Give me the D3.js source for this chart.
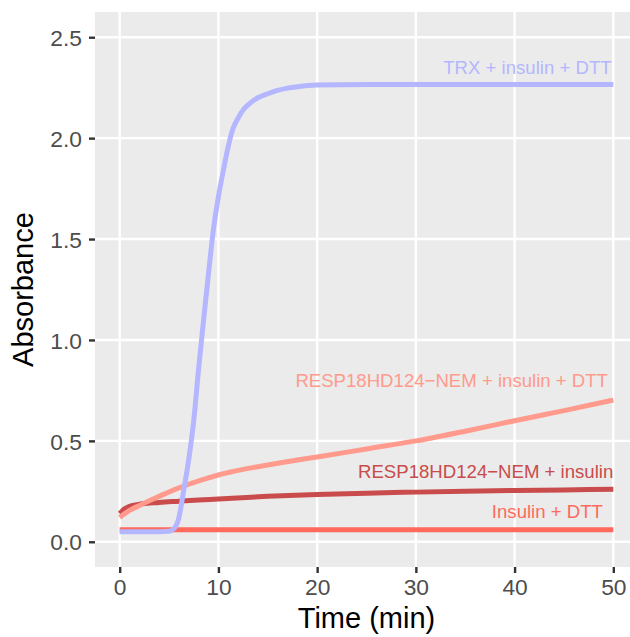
<!DOCTYPE html>
<html>
<head>
<meta charset="utf-8">
<script src="https://cdn.jsdelivr.net/npm/d3@7/dist/d3.min.js"></script>
<style>
  html, body { margin: 0; padding: 0; background: #ffffff; }
  svg { display: block; font-family: "Liberation Sans", Arial, Helvetica, sans-serif; }
</style>
</head>
<body>
<svg id="chart" width="630" height="637"></svg>
<script>
// Insulin reduction assay: absorbance over time (min)
const trxTime  = [0, 2, 4, 5, 5.5, 6, 6.5, 7, 7.5, 8, 8.5, 9, 9.5, 10, 10.5, 11, 11.5, 12, 12.5, 13, 14, 15, 16, 17, 18, 20, 25, 30, 40, 50];
const trxAbs   = [0.05, 0.05, 0.05, 0.052, 0.065, 0.12, 0.26, 0.41, 0.6, 0.86, 1.1, 1.33, 1.55, 1.71, 1.84, 1.96, 2.05, 2.1, 2.14, 2.165, 2.2, 2.22, 2.237, 2.248, 2.255, 2.263, 2.266, 2.266, 2.266, 2.266];

const nemDttTime = [0, 1, 2, 3, 4, 5, 6, 7, 8, 9, 10, 11, 12, 14, 16, 18, 20, 25, 30, 35, 40, 45, 50];
const nemDttAbs  = [0.12, 0.155, 0.18, 0.203, 0.225, 0.247, 0.267, 0.285, 0.302, 0.317, 0.331, 0.343, 0.354, 0.372, 0.389, 0.405, 0.42, 0.46, 0.5, 0.548, 0.6, 0.65, 0.702];

const nemTime = [0, 0.5, 1, 2, 4, 6, 8, 10, 15, 20, 25, 30, 35, 40, 45, 50];
const nemAbs  = [0.14, 0.163, 0.176, 0.186, 0.195, 0.201, 0.207, 0.212, 0.225, 0.234, 0.241, 0.246, 0.25, 0.254, 0.257, 0.26];

const insTime = [0, 10, 20, 30, 40, 50];
const insAbs  = [0.06, 0.06, 0.059, 0.059, 0.059, 0.059];

const seriesNames  = ["Insulin + DTT", "RESP18HD124\u2212NEM + insulin", "RESP18HD124\u2212NEM + insulin + DTT", "TRX + insulin + DTT"];
const seriesColors = ["#ff6a5c", "#c94b4b", "#ff9a8c", "#b4b6ff"];

// Label anchors (data units): right end x, vertical centre y
const labelX = [48.95, 50.0, 49.46, 49.83];
const labelY = [0.15, 0.35, 0.8, 2.35];

const xTicks = [0, 10, 20, 30, 40, 50];
const yTicks = [0, 0.5, 1.0, 1.5, 2.0, 2.5];

const series = [
  { t: insTime, a: insAbs },
  { t: nemTime, a: nemAbs },
  { t: nemDttTime, a: nemDttAbs },
  { t: trxTime, a: trxAbs }
].map((s, i) => ({
  name: seriesNames[i],
  color: seriesColors[i],
  points: s.t.map((t, j) => ({ t, a: s.a[j] }))
}));

const svg = d3.select("#chart");
const panel = { left: 95, right: 638, top: 12, bottom: 567 };

const x = d3.scaleLinear().domain([-2.5, 52.5]).range([panel.left, panel.right]);
const y = d3.scaleLinear().domain([-0.125, 2.625]).range([panel.bottom, panel.top]);

// Panel background
svg.append("rect")
  .attr("x", panel.left).attr("y", panel.top)
  .attr("width", panel.right - panel.left)
  .attr("height", panel.bottom - panel.top)
  .attr("fill", "#ebebeb");

// Grid lines
const grid = svg.append("g").attr("stroke", "#ffffff").attr("stroke-width", 2.4);
grid.selectAll("line.gx").data(xTicks).join("line")
  .attr("x1", d => x(d)).attr("x2", d => x(d))
  .attr("y1", panel.top).attr("y2", panel.bottom);
grid.selectAll("line.gy").data(yTicks).join("line")
  .attr("x1", panel.left).attr("x2", panel.right)
  .attr("y1", d => y(d)).attr("y2", d => y(d));

// Axes
const xAxis = d3.axisBottom(x).tickValues(xTicks).tickFormat(d3.format("d")).tickSize(6).tickPadding(6);
const yAxis = d3.axisLeft(y).tickValues(yTicks).tickFormat(d3.format(".1f")).tickSize(6).tickPadding(7);

const gx = svg.append("g").attr("transform", `translate(0,${panel.bottom})`).call(xAxis);
const gy = svg.append("g").attr("transform", `translate(${panel.left},0)`).call(yAxis);
[gx, gy].forEach(g => {
  g.select(".domain").remove();
  g.selectAll(".tick line").attr("stroke", "#333333").attr("stroke-width", 2.4);
  g.selectAll(".tick text").attr("fill", "#4d4d4d").attr("font-size", 22.8)
    .attr("font-family", "Liberation Sans, Arial, sans-serif");
});
gx.selectAll(".tick text").attr("dy", "0.71em");
gy.selectAll(".tick text").attr("dy", "0.36em");

// Lines
const line = d3.line().x(d => x(d.t)).y(d => y(d.a)).curve(d3.curveMonotoneX);
const plot = svg.append("g");
plot.selectAll("path.series").data(series).join("path")
  .attr("class", "series")
  .attr("d", d => line(d.points))
  .attr("fill", "none")
  .attr("stroke", d => d.color)
  .attr("stroke-width", 5)
  .attr("stroke-linejoin", "round");

// Series labels
svg.append("g").selectAll("text").data(series).join("text")
  .attr("x", (d, i) => x(labelX[i]))
  .attr("y", (d, i) => y(labelY[i]))
  .attr("dy", "0.36em")
  .attr("text-anchor", "end")
  .attr("font-size", 18.6)
  .attr("fill", d => d.color)
  .text(d => d.name);

// Axis titles
svg.append("text")
  .attr("x", (panel.left + panel.right) / 2)
  .attr("y", 628)
  .attr("text-anchor", "middle")
  .attr("font-size", 29)
  .attr("fill", "#000000")
  .text("Time (min)");

svg.append("text")
  .attr("transform", `translate(33,${(panel.top + panel.bottom) / 2}) rotate(-90)`)
  .attr("text-anchor", "middle")
  .attr("font-size", 29)
  .attr("fill", "#000000")
  .text("Absorbance");
</script>
</body>
</html>
